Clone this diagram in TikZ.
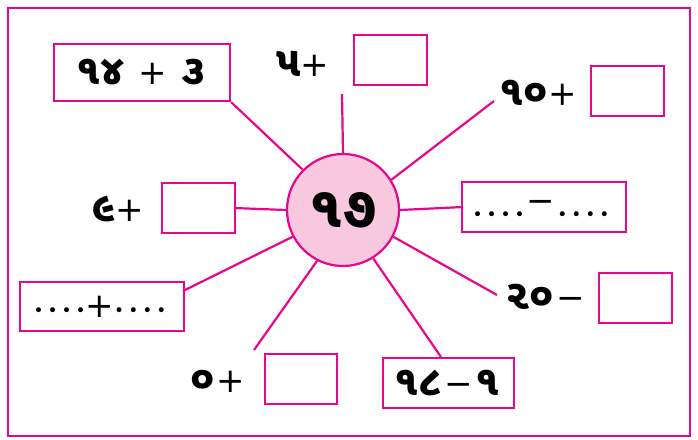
\documentclass[tikz,border=0pt]{standalone}
\usepackage{fontspec}
\newfontfamily\guj[Script=Gujarati]{Noto Sans Gujarati UI}
\setmainfont{DejaVu Sans}
\newcommand\opsym[1]{{\normalfont\mdseries\fontsize{34}{34}\selectfont #1}}
\newcommand\dt{\textbullet}
\definecolor{mag}{HTML}{E8078C}
\definecolor{lpink}{HTML}{F8C8DE}
\tikzset{
  pbox/.style={draw=mag, line width=2.2pt, minimum width=#1, minimum height=50pt, inner sep=0pt, anchor=north west},
  ray/.style={draw=mag, line width=2.2pt},
  lbl/.style={font=\guj\bfseries\fontsize{42}{42}\selectfont, inner sep=0pt, text=black},
  dots/.style={font=\fontsize{17}{17}\selectfont, inner sep=0pt, text=black}
}
\begin{document}
\begin{tikzpicture}[x=1pt,y=-1pt]
\useasboundingbox (0,0) rectangle (698,439);
\draw[mag, line width=2.2pt] (8,8) rectangle (690,436);
\node[circle, draw=mag, fill=lpink, line width=2.2pt, minimum size=112pt, inner sep=0pt] (c) at (343,210) {};
\node[lbl, font=\guj\bfseries\fontsize{58}{58}\selectfont] (ct) at (343,210) {૧૭};
% box 1
\node[pbox=176pt, minimum height=57pt] (b1) at (53,43) {};
\node[lbl] (t1) at (141,72) {૧૪\kern14pt\opsym{+}\kern14pt૩};
\draw[ray] (b1.south east) -- (c.135);
% box 2
\node[pbox=73pt] (b2) at (353,34) {};
\node[lbl] (t2) at (303,64) {૫\opsym{+}};
\coordinate (e2) at (342,94);
\draw[ray] (e2) -- (c.north);
% box 3
\node[pbox=73pt] (b3) at (590,65) {};
\node[lbl] (t3) at (538,93) {૧૦\opsym{+}};
\coordinate (e3) at (494,101);
\draw[ray] (e3) -- (c.32);
% box 4
\node[pbox=73pt] (b4) at (161,182) {};
\node[lbl] (t4) at (118,209) {૯\opsym{+}};
\draw[ray] (b4.east) -- (c.west);
% box 5
\node[pbox=164pt] (b5) at (461,181) {};
\node[dots] (t5) at (541,210) {\dt\kern4pt\dt\kern4pt\dt\kern4pt\dt\kern2pt\raisebox{8pt}{\opsym{−}}\kern2pt\dt\kern4pt\dt\kern4pt\dt\kern4pt\dt};
\draw[ray] (c.east) -- (b5.west);
% box 6
\node[pbox=164pt, minimum height=49pt] (b6) at (19,281) {};
\node[dots] (t6) at (100,307) {\dt\kern4pt\dt\kern4pt\dt\kern4pt\dt\kern0pt\raisebox{-1pt}{\opsym{+}}\kern0pt\dt\kern4pt\dt\kern4pt\dt\kern4pt\dt};
\coordinate (e6) at (183,291);
\draw[ray] (e6) -- (c.208);
% box 7
\node[pbox=73pt] (b7) at (598,272) {};
\node[lbl] (t7) at (545,297) {૨૦\kern2pt\opsym{−}};
\coordinate (e7) at (497,295);
\draw[ray] (e7) -- (c.332);
% box 8
\node[pbox=72pt] (b8) at (264,353) {};
\node[lbl] (t8) at (218,381) {૦\kern2pt\opsym{+}};
\coordinate (e8) at (254,350);
\draw[ray] (e8) -- (c.243);
% box 9
\node[pbox=131pt] (b9) at (382,357) {};
\node[lbl] (t9) at (447,383) {૧૮\kern2pt\opsym{−}\kern2pt૧};
\coordinate (e9) at (441,357);
\draw[ray] (e9) -- (c.302);
\end{tikzpicture}
\end{document}
